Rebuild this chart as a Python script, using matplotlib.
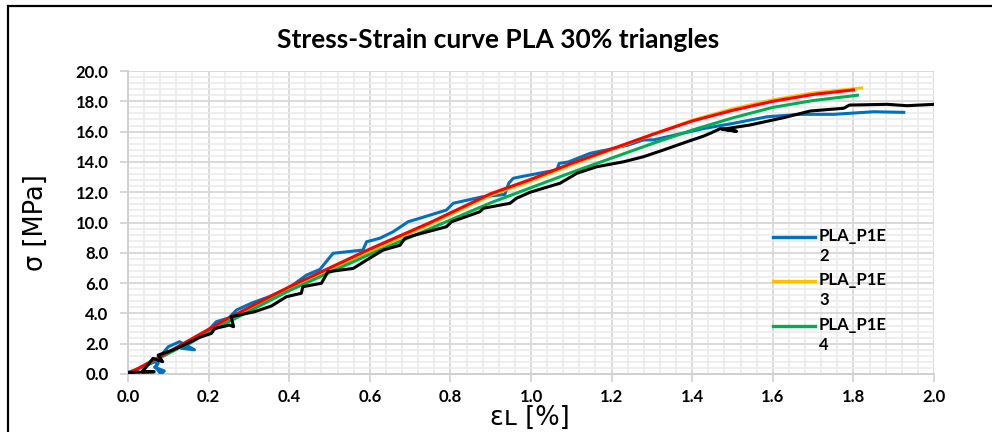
import matplotlib
matplotlib.use("Agg")
import matplotlib.pyplot as plt
from matplotlib.ticker import MultipleLocator, FormatStrFormatter
from matplotlib.patches import Rectangle

# ---------------- data ----------------
title = "Stress-Strain curve PLA 30% triangles"
labels = ["PLA_P1E\n2", "PLA_P1E\n3", "PLA_P1E\n4", "PLA_P1E\n5", "PLA_P1E\n6"]
colors = ["#0070C0", "#FFC000", "#00B050", "#FF0000", "#000000"]

blue_x = [0.0, 0.035, 0.066, 0.075, 0.066, 0.09, 0.082, 0.07, 0.075, 0.10, 0.128, 0.165, 0.132,
          0.17, 0.20, 0.219, 0.25, 0.269, 0.306, 0.35, 0.40, 0.443, 0.476, 0.509, 0.583, 0.592,
          0.625, 0.658, 0.695, 0.724, 0.79, 0.807, 0.88, 0.935, 0.945, 0.956, 0.99, 1.064, 1.07,
          1.093, 1.147, 1.188, 1.24, 1.279, 1.304, 1.345, 1.428, 1.503, 1.586, 1.668, 1.751,
          1.85, 1.925]
blue_y = [0.1, 0.45, 0.8, 0.7, 0.45, 0.2, 0.0, 0.4, 1.0, 1.8, 2.13, 1.6, 1.7,
          2.3, 2.9, 3.45, 3.7, 4.22, 4.67, 5.1, 5.7, 6.53, 6.9, 7.97, 8.18, 8.73,
          8.96, 9.39, 10.05, 10.28, 10.82, 11.27, 11.7, 11.85, 12.6, 12.92, 13.1, 13.47, 13.9,
          14.0, 14.57, 14.79, 15.1, 15.45, 15.45, 15.7, 16.2, 16.55, 16.98, 17.14, 17.14,
          17.31, 17.27]

yellow_x = [0.0, 0.1, 0.25, 0.4, 0.5, 0.6, 0.75, 0.9, 1.0, 1.1, 1.2, 1.3, 1.4, 1.5, 1.6, 1.7, 1.82]
yellow_y = [0.0, 1.4, 3.6, 5.6, 6.85, 8.1, 9.9, 11.8, 12.75, 13.8, 14.8, 15.8, 16.75, 17.5, 18.1, 18.55, 18.88]

green_x = [0.0, 0.1, 0.25, 0.4, 0.5, 0.6, 0.75, 0.9, 1.0, 1.1, 1.2, 1.3, 1.4, 1.5, 1.6, 1.7, 1.81]
green_y = [0.0, 1.35, 3.45, 5.5, 6.7, 7.9, 9.6, 11.3, 12.3, 13.3, 14.25, 15.2, 16.1, 16.9, 17.6, 18.05, 18.4]

red_x = [0.0, 0.1, 0.25, 0.4, 0.5, 0.6, 0.75, 0.9, 1.0, 1.1, 1.2, 1.3, 1.4, 1.5, 1.6, 1.7, 1.8]
red_y = [0.0, 1.45, 3.7, 5.75, 7.0, 8.25, 10.0, 11.9, 12.85, 13.9, 14.85, 15.8, 16.7, 17.4, 18.0, 18.45, 18.75]

black_x = [0.0, 0.065, 0.035, 0.045, 0.062, 0.086, 0.075, 0.111, 0.13, 0.178, 0.207, 0.215, 0.252,
           0.262, 0.256, 0.314, 0.356, 0.393, 0.43, 0.434, 0.48, 0.496, 0.559, 0.592, 0.633, 0.675,
           0.687, 0.712, 0.79, 0.803, 0.873, 0.882, 0.948, 0.964, 0.998, 1.072, 1.114, 1.163, 1.23,
           1.279, 1.329, 1.387, 1.428, 1.445, 1.47, 1.51, 1.475, 1.544, 1.627, 1.693, 1.776, 1.79,
           1.884, 1.933, 2.0]
black_y = [0.1, 0.15, 0.15, 0.45, 1.03, 0.81, 1.25, 1.58, 1.8, 2.42, 2.68, 3.0, 3.23,
           3.12, 3.78, 4.11, 4.49, 5.1, 5.33, 5.76, 5.99, 6.75, 6.97, 7.52, 8.18, 8.5,
           8.95, 9.17, 9.72, 10.05, 10.71, 10.94, 11.27, 11.6, 12.0, 12.59, 13.25, 13.68, 14.01,
           14.34, 14.79, 15.33, 15.7, 15.89, 16.2, 16.02, 16.15, 16.44, 16.92, 17.36, 17.54, 17.75,
           17.8, 17.71, 17.8]

xs = [blue_x, yellow_x, green_x, red_x, black_x]
ys = [blue_y, yellow_y, green_y, red_y, black_y]

x_ticks = [0.0, 0.2, 0.4, 0.6, 0.8, 1.0, 1.2, 1.4, 1.6, 1.8, 2.0]
y_ticks = [0.0, 2.0, 4.0, 6.0, 8.0, 10.0, 12.0, 14.0, 16.0, 18.0, 20.0]

# ---------------- figure ----------------
W, H = 992, 432
fig = plt.figure(figsize=(W / 100, H / 100), dpi=100)
ax = fig.add_axes([128 / W, 1 - 374 / H, (934 - 128) / W, (374 - 71) / H])

lines = []
for x, y, c, lab in zip(xs, ys, colors, labels):
    ln, = ax.plot(x, y, color=c, lw=2.2, label=lab, solid_joinstyle="round", zorder=3)
    lines.append(ln)

ax.set_xlim(0, 2.0)
ax.set_ylim(0, 20.0)
ax.set_xticks(x_ticks)
ax.set_yticks(y_ticks)
ax.xaxis.set_major_formatter(FormatStrFormatter("%.1f"))
ax.yaxis.set_major_formatter(FormatStrFormatter("%.1f"))
ax.xaxis.set_minor_locator(MultipleLocator(0.04))
ax.yaxis.set_minor_locator(MultipleLocator(0.4))

ax.grid(which="major", color="#d9d9d9", lw=1.4, zorder=1)
ax.grid(which="minor", color="#ebebeb", lw=1.2, zorder=0)
ax.set_axisbelow(True)

for s in ["top", "right"]:
    ax.spines[s].set_visible(False)
for s in ["left", "bottom"]:
    ax.spines[s].set_color("#d0d0d0")
    ax.spines[s].set_linewidth(1.4)

ax.tick_params(which="major", length=6, width=1.2, color="#d0d0d0")
ax.tick_params(axis="y", pad=8)
ax.tick_params(axis="x", pad=5)
ax.tick_params(which="minor", length=0)
for t in ax.get_xticklabels() + ax.get_yticklabels():
    t.set_fontfamily("Lato")
    t.set_fontweight("bold")
    t.set_fontsize(12)

fig.text(498 / W, 1 - 40 / H, title, ha="center", va="center",
         fontsize=19, fontweight="bold", family="Lato")

ax.set_ylabel("σ [MPa]", fontsize=18.5, family="DejaVu Sans")
ax.yaxis.set_label_coords(-(128 - 49) / 806, 0.5)
ax.set_xlabel("εʟ [%]", fontsize=18.5, family="DejaVu Sans")
ax.xaxis.set_label_coords((530 - 128) / 806, -(405 - 374) / 303)

# legend (only the first three series are listed, as in the reference)
leg_y = [237, 281, 326]
for ln, py in zip(lines[:3], leg_y):
    fy = (374 - py) / 303
    ax.plot([(773 - 128) / 806, (815 - 128) / 806], [fy, fy], transform=ax.transAxes,
            color=ln.get_color(), lw=2.4, clip_on=False, zorder=5)
    ax.text((819 - 128) / 806, fy + 9 / 303, ln.get_label(), transform=ax.transAxes,
            ha="left", va="top", family="Lato", fontweight="bold", fontsize=12,
            linespacing=1.3, zorder=5)

# outer frame (cropped at right and bottom)
fig.patches.append(Rectangle((8 / W, -0.1), 1.2, 1 - 6.5 / H + 0.1, transform=fig.transFigure,
                             fill=False, edgecolor="black", lw=1.6, zorder=10))

fig.savefig("out.png", dpi=100)
